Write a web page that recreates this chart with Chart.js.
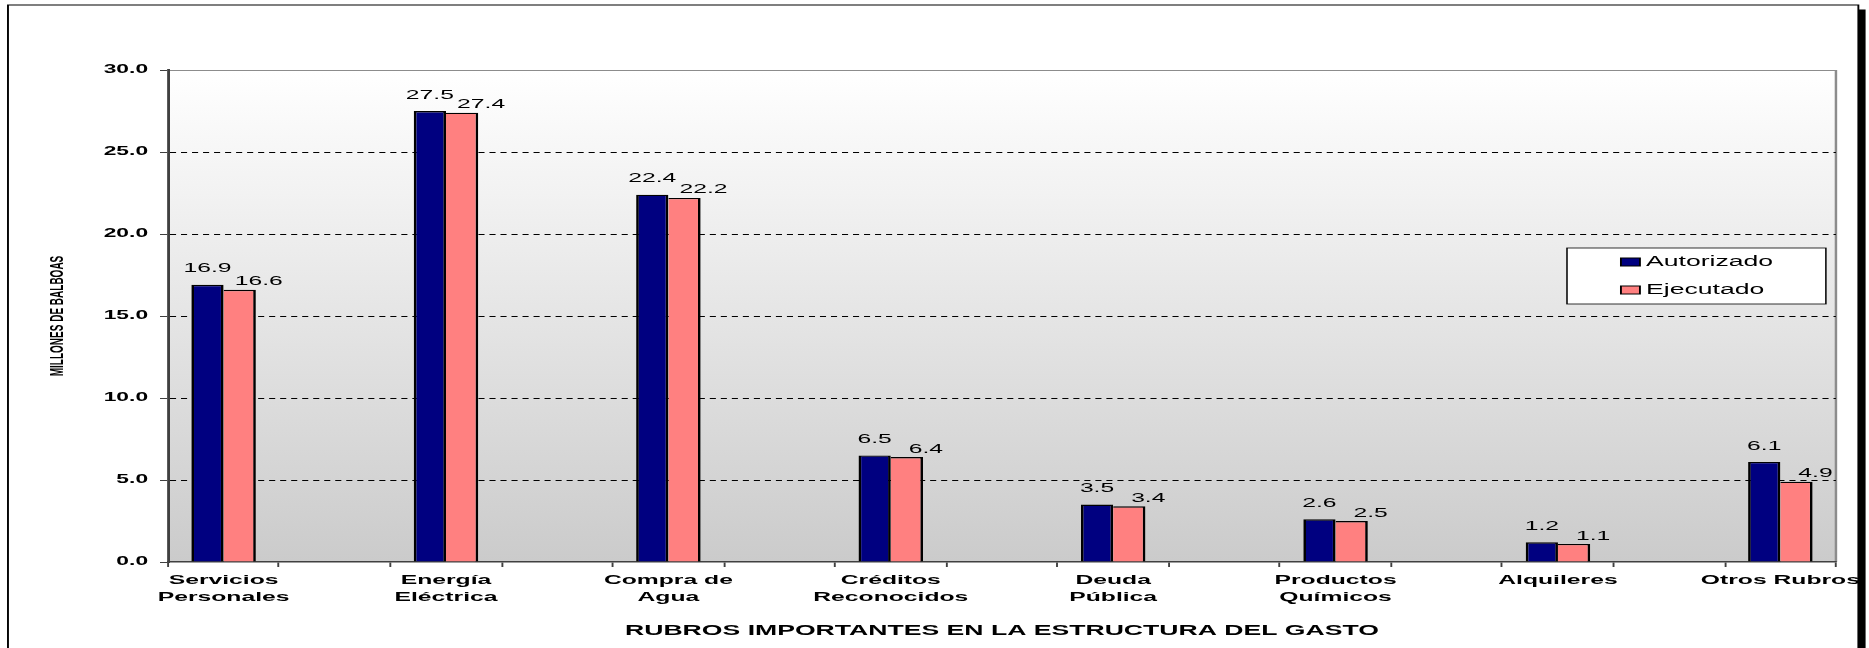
<!DOCTYPE html>
<html>
<head>
<meta charset="utf-8">
<script src="https://cdn.jsdelivr.net/npm/chart.js@4.4.1/dist/chart.umd.min.js"></script>
<style>
  html, body { margin: 0; padding: 0; background: #ffffff; overflow: hidden; }
  canvas { display: block; }
</style>
</head>
<body>
<canvas id="c" width="984" height="648"></canvas>
<script>
// ---------- data ----------
const categories = [
  ['Servicios', 'Personales'],
  ['Energía', 'Eléctrica'],
  ['Compra de', 'Agua'],
  ['Créditos', 'Reconocidos'],
  ['Deuda', 'Pública'],
  ['Productos', 'Químicos'],
  'Alquileres',
  'Otros Rubros'
];
const autorizado = [16.9, 27.5, 22.4, 6.5, 3.5, 2.6, 1.2, 6.1];
const ejecutado  = [16.6, 27.4, 22.2, 6.4, 3.4, 2.5, 1.1, 4.9];
const seriesNames = ['Autorizado', 'Ejecutado'];
const yTicks = [0, 5, 10, 15, 20, 25, 30];
const xTitle = 'RUBROS IMPORTANTES EN LA ESTRUCTURA DEL GASTO';
const yTitle = 'MILLONES DE BALBOAS';

// ---------- build slots (a blank slot between each category) ----------
function spread(arr, blank) {
  const out = [];
  arr.forEach((v, i) => { out.push(v); if (i < arr.length - 1) out.push(blank); });
  return out;
}
const slotLabels = spread(categories, '');
const slotAut = spread(autorizado, null);
const slotEje = spread(ejecutado, null);

const FONT = '"Liberation Sans", Arial, Helvetica, sans-serif';
const LAYOUT_W = 984;
const SX = 1869 / LAYOUT_W;   // horizontal stretch of the original picture

const framePlugin = {
  id: 'frame',
  beforeDraw(chart) {
    const ctx = chart.ctx, a = chart.chartArea;
    ctx.save();
    ctx.fillStyle = '#ffffff';
    ctx.fillRect(0, 0, LAYOUT_W, 648);
    // outer frame + shadow
    ctx.strokeStyle = '#000000';
    ctx.lineWidth = 1;
    ctx.strokeRect(4.2, 5, 974.2, 660);
    ctx.fillStyle = '#000000';
    ctx.fillRect(978.6, 9.5, 3.6, 650);
    // plot background gradient
    const g = ctx.createLinearGradient(0, a.top, 0, a.bottom);
    g.addColorStop(0, '#ffffff');
    g.addColorStop(1, '#cbcbcb');
    ctx.fillStyle = g;
    ctx.fillRect(a.left, a.top, a.right - a.left, a.bottom - a.top);
    // right plot border
    ctx.strokeStyle = '#8c8c8c';
    ctx.lineWidth = 1.3;
    ctx.beginPath();
    ctx.moveTo(a.right, a.top);
    ctx.lineTo(a.right, a.bottom);
    ctx.stroke();
    ctx.restore();
  },
  afterDatasetsDraw(chart) {
    const ctx = chart.ctx;
    ctx.save();
    ctx.font = '13px ' + FONT;
    ctx.fillStyle = '#000000';
    ctx.textAlign = 'center';
    ctx.textBaseline = 'middle';
    chart.data.datasets.forEach((ds, di) => {
      const meta = chart.getDatasetMeta(di);
      meta.data.forEach((el, i) => {
        const v = ds.data[i];
        if (v === null || v === undefined) return;
        const dx = di === 0 ? 0 : 10;
        const dy = di === 0 ? 16 : 8;
        ctx.fillText(v.toFixed(1), el.x + dx, el.y - dy);
      });
    });
    ctx.restore();
  },
  afterDraw(chart) {
    const ctx = chart.ctx, a = chart.chartArea;
    const bw = 136.3, bh = 56;
    const bx = a.right - 141.6, by = 248;
    ctx.save();
    ctx.fillStyle = '#ffffff';
    ctx.fillRect(bx, by, bw, bh);
    ctx.strokeStyle = '#000000';
    ctx.lineWidth = 0.8;
    ctx.strokeRect(bx, by, bw, bh);
    ctx.font = '14px ' + FONT;
    ctx.textBaseline = 'middle';
    ctx.textAlign = 'left';
    chart.data.datasets.forEach((ds, di) => {
      const cy = by + 14 + di * 28;
      ctx.fillStyle = ds.backgroundColor;
      ctx.fillRect(bx + 28.4, cy - 4, 10, 8);
      ctx.strokeStyle = '#000000';
      ctx.lineWidth = 1;
      ctx.strokeRect(bx + 28.4, cy - 4, 10, 8);
      ctx.fillStyle = '#000000';
      ctx.fillText(ds.label, bx + 41.6, cy);
    });
    ctx.restore();
  }
};

const chart = new Chart(document.getElementById('c'), {
  type: 'bar',
  data: {
    labels: slotLabels,
    datasets: [
      {
        label: seriesNames[0],
        data: slotAut,
        backgroundColor: '#000080',
        borderColor: '#000000',
        borderWidth: { top: 1.4, left: 1.4, right: 1.4, bottom: 0 },
        categoryPercentage: 0.58,
        barPercentage: 1.0
      },
      {
        label: seriesNames[1],
        data: slotEje,
        backgroundColor: '#FF8080',
        borderColor: '#000000',
        borderWidth: { top: 1.4, left: 0, right: 1.4, bottom: 0 },
        categoryPercentage: 0.58,
        barPercentage: 1.0
      }
    ]
  },
  options: {
    responsive: false,
    animation: false,
    devicePixelRatio: 1,
    layout: { padding: { left: 10, right: 17.4, top: 70, bottom: 0 } },
    plugins: {
      legend: { display: false },
      tooltip: { enabled: false }
    },
    scales: {
      x: {
        offset: true,
        grid: { offset: true, drawOnChartArea: false, drawTicks: true, tickLength: 5, tickColor: '#404040', tickWidth: 1 },
        border: { display: true, color: '#404040', width: 1.5 },
        ticks: {
          autoSkip: false, maxRotation: 0, minRotation: 0, padding: 4.6, color: '#000000',
          font: { family: FONT, size: 13, weight: 'bold', lineHeight: 1.3 }
        },
        title: {
          display: true, text: xTitle, color: '#000000',
          font: { family: FONT, size: 14, weight: 'bold', lineHeight: 1.2 },
          padding: { top: 0, bottom: 8.6 }
        },
        afterFit(s) { s.height = 86; s.paddingLeft = 0; s.paddingRight = 0; }
      },
      y: {
        min: 0, max: 30,
        afterBuildTicks(s) { s.ticks = yTicks.map(v => ({ value: v })); },
        ticks: {
          color: '#000000', padding: 6.3,
          font: { family: FONT, size: 12, weight: 'bold' },
          callback: v => Number(v).toFixed(1)
        },
        grid: {
          drawOnChartArea: true, drawTicks: true, tickLength: 4.2, tickColor: '#404040', tickWidth: 1,
          lineWidth: 1,
          color: c => (c.tick && c.tick.value === 30) ? '#8c8c8c' : ((c.tick && c.tick.value === 0) ? 'rgba(0,0,0,0)' : '#000000')
        },
        border: {
          display: true, color: '#404040', width: 1.5,
          dash: c => (c.tick && c.tick.value === 30) ? [] : [3.2, 2.6]
        },
        title: {
          display: true, text: yTitle, color: '#000000',
          font: { family: FONT, size: 10, weight: 'bold', lineHeight: 1.2 },
          padding: { top: 14.5, bottom: 0 }
        },
        afterFit(s) { s.width = 78.45; s.paddingTop = 0; s.paddingBottom = 0; }
      }
    }
  },
  plugins: [framePlugin]
});

// Stretch horizontally like the original picture: full-resolution buffer, non-uniform transform.
(function stretch() {
  const cv = chart.canvas;
  cv.width = 1869;
  cv.height = 648;
  cv.style.width = '1869px';
  cv.style.height = '648px';
  chart.ctx.setTransform(SX, 0, 0, 1, 0, 0);
  chart.draw();
})();
</script>
</body>
</html>
